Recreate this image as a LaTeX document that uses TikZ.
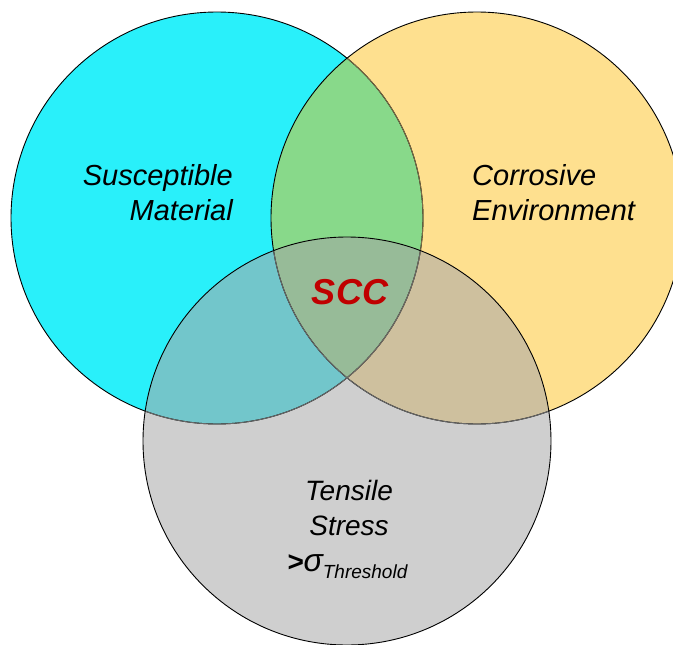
\documentclass[tikz,border=0pt]{standalone}
\usepackage{fontspec}
\setmainfont{Liberation Sans}
\definecolor{cyanfill}{RGB}{41,240,250}
\definecolor{yellowfill}{RGB}{254,224,143}
\definecolor{grayfill}{RGB}{207,207,207}
\definecolor{cyfill}{RGB}{136,217,138}
\definecolor{cgfill}{RGB}{114,198,203}
\definecolor{ygfill}{RGB}{206,192,158}
\definecolor{allfill}{RGB}{151,187,152}
\definecolor{dimyel}{RGB}{120,106,70}
\definecolor{dimgray}{RGB}{105,105,105}
\definecolor{sccred}{RGB}{192,0,0}
\tikzset{
  ring/.style={line width=0.9pt},
  lbl/.style={inner sep=0pt, font=\fontsize{29}{35}\selectfont\itshape},
  lblb/.style={inner sep=0pt, font=\fontsize{28}{34}\selectfont\itshape},
}
\begin{document}
\begin{tikzpicture}[x=1pt,y=-1pt]
\useasboundingbox (0,0) rectangle (673,645);
\clip (0,0) rectangle (673,645);
\coordinate (cA) at (217,218);
\coordinate (cB) at (477,218);
\coordinate (cC) at (347,441);
% base fills
\fill[cyanfill] (cA) circle[radius=206pt];
\fill[yellowfill] (cB) circle[radius=206pt];
\fill[grayfill] (cC) circle[radius=204pt];
% pairwise overlaps
\begin{scope}
  \clip (cA) circle[radius=206pt];
  \fill[cyfill] (cB) circle[radius=206pt];
  \fill[cgfill] (cC) circle[radius=204pt];
\end{scope}
\begin{scope}
  \clip (cB) circle[radius=206pt];
  \fill[ygfill] (cC) circle[radius=204pt];
\end{scope}
\begin{scope}
  \clip (cA) circle[radius=206pt];
  \clip (cB) circle[radius=206pt];
  \fill[allfill] (cC) circle[radius=204pt];
\end{scope}
% strokes
\draw[ring] (cA) circle[radius=206pt];
\begin{scope}
  \clip (cB) circle[radius=206pt];
  \draw[ring, dimyel] (cA) circle[radius=206pt];
\end{scope}
\draw[ring] (cB) circle[radius=206pt];
\begin{scope}
  \clip (cC) circle[radius=204pt];
  \draw[ring, dimgray] (cA) circle[radius=206pt];
  \draw[ring, dimgray] (cB) circle[radius=206pt];
\end{scope}
\draw[ring] (cC) circle[radius=204pt];
% labels
\node[lbl, anchor=base east] (sus) at (233,185) {Susceptible};
\node[lbl, anchor=base east] (mat) at (233,220) {Material};
\node[lbl, anchor=base west] (cor) at (472,185) {Corrosive};
\node[lbl, anchor=base west] (env) at (472,220) {Environment};
\node[inner sep=0pt, anchor=base, text=sccred, font=\fontsize{36}{40}\selectfont\bfseries\itshape] (scc) at (350,304) {SCC};
\node[lblb, anchor=base] (ten) at (349,500) {Tensile};
\node[lblb, anchor=base] (str) at (349,535) {Stress};
\node[lblb, anchor=base west] (sig) at (287,571) {\textbf{>}{\fontsize{32}{32}\selectfont σ}\raisebox{-7pt}{\fontsize{19}{19}\selectfont Threshold}};
\end{tikzpicture}
\end{document}
